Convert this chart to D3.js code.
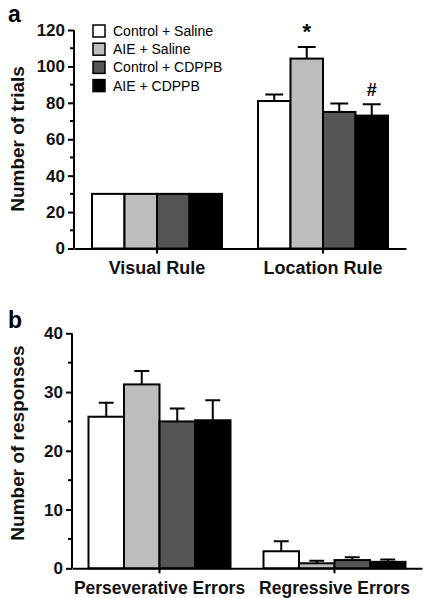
<!DOCTYPE html>
<html>
<head>
<meta charset="utf-8">
<script src="https://cdn.jsdelivr.net/npm/d3@7"></script>
<style>
  body { margin: 0; background: #fff; }
  text { font-family: "Liberation Sans", Arial, sans-serif; }
</style>
</head>
<body>
<div id="chart"></div>
<script>
var groups = ['Control + Saline', 'AIE + Saline', 'Control + CDPPB', 'AIE + CDPPB']
var colors = ['#ffffff', '#bdbdbd', '#555555', '#000000']

// panel a
var rulesA = ['Visual Rule', 'Location Rule']
var trialsMean = [[30, 30, 30, 30], [81, 104.3, 75, 73]]
var trialsErr = [[0, 0, 0, 0], [3.6, 6.4, 4.7, 6.2]]
var marksA = [[null, null, null, null], [null, '*', null, '#']]
var ticksA = [0, 20, 40, 60, 80, 100, 120]

// panel b
var errTypes = ['Perseverative Errors', 'Regressive Errors']
var respMean = [[25.8, 31.3, 25.0, 25.2], [2.9, 0.85, 1.4, 1.1]]
var respErr = [[2.4, 2.3, 2.2, 3.4], [1.7, 0.45, 0.5, 0.4]]
var ticksB = [0, 10, 20, 30, 40]

var svg = d3.select('#chart').append('svg')
  .attr('width', 423)
  .attr('height', 598)

function panel (opt) {
  var g = svg.append('g')
  var x = d3.scaleBand().domain(opt.cats).range([opt.x0, opt.x1]).padding(0)
  var y = d3.scaleLinear().domain([0, opt.ymax]).range([opt.y0, opt.y1])
  var inner = d3.scaleBand().domain(d3.range(4)).range([0, opt.groupW])
  var off = (x.bandwidth() - opt.groupW) / 2

  // minor ticks
  var minors = d3.range(opt.minor, opt.ymax, opt.minor * 2)
  g.selectAll('line.minor').data(minors).enter().append('line')
    .attr('x1', opt.x0 - 4).attr('x2', opt.x0)
    .attr('y1', function (d) { return y(d) }).attr('y2', function (d) { return y(d) })
    .attr('stroke', '#000').attr('stroke-width', 2)

  var yAxis = g.append('g')
    .attr('transform', 'translate(' + opt.x0 + ',0)')
    .call(d3.axisLeft(y).tickValues(opt.ticks).tickSize(6).tickPadding(3))
  yAxis.selectAll('path, line').attr('stroke', '#000').attr('stroke-width', 2)
  yAxis.select('path').attr('d', 'M0,' + y(0) + 'V' + y(opt.ymax))
  yAxis.selectAll('text').attr('font-size', 17).attr('font-weight', 'bold').attr('fill', '#111')

  // bars
  opt.cats.forEach(function (c, ci) {
    var bg = g.append('g').attr('transform', 'translate(' + (x(c) + off) + ',0)')
    bg.selectAll('line.err').data(opt.mean[ci]).enter().append('path')
      .attr('d', function (d, i) {
        var e = opt.err[ci][i]
        if (!e) return null
        var cx = inner(i) + inner.bandwidth() / 2
        var hw = inner.bandwidth() * opt.cap / 2
        return 'M' + cx + ',' + y(d) + 'V' + y(d + e) + 'M' + (cx - hw) + ',' + y(d + e) + 'H' + (cx + hw)
      })
      .attr('stroke', '#000').attr('stroke-width', 2).attr('fill', 'none')
    bg.selectAll('rect').data(opt.mean[ci]).enter().append('rect')
      .attr('x', function (d, i) { return inner(i) })
      .attr('y', function (d) { return y(d) })
      .attr('width', inner.bandwidth())
      .attr('height', function (d) { return y(0) - y(d) })
      .attr('fill', function (d, i) { return colors[i] })
      .attr('stroke', '#000').attr('stroke-width', 2)
    if (opt.marks) {
      bg.selectAll('text.mark').data(opt.mean[ci]).enter().append('text')
        .attr('x', function (d, i) { return inner(i) + inner.bandwidth() / 2 })
        .attr('y', function (d, i) { return y(d + opt.err[ci][i]) - 8 })
        .attr('text-anchor', 'middle')
        .attr('font-size', function (d, i) { return opt.marks[ci][i] === '*' ? 22 : 18 })
        .attr('font-weight', 'bold')
        .text(function (d, i) { return opt.marks[ci][i] })
    }
  })

  var xAxis = g.append('g')
    .attr('transform', 'translate(0,' + y(0) + ')')
    .call(d3.axisBottom(x).tickSize(5).tickPadding(8).tickSizeOuter(0))
  xAxis.selectAll('path, line').attr('stroke', '#000').attr('stroke-width', 2)
  xAxis.selectAll('text').attr('font-size', opt.xFont).attr('font-weight', 'bold').attr('fill', '#111')

  g.append('text')
    .attr('transform', 'translate(' + opt.labelX + ',' + opt.labelY + ') rotate(-90)')
    .attr('text-anchor', 'middle')
    .attr('font-size', 19).attr('font-weight', 'bold').attr('fill', '#111')
    .text(opt.ylabel)

  g.append('text')
    .attr('x', 8).attr('y', opt.letterY)
    .attr('font-size', 23).attr('font-weight', 'bold')
    .text(opt.letter)
}

panel({
  cats: rulesA, mean: trialsMean, err: trialsErr, marks: marksA,
  x0: 74, x1: 406, y0: 248.5, y1: 30, ymax: 120, ticks: ticksA, minor: 10,
  groupW: 130, cap: 0.55, xFont: 18,
  ylabel: 'Number of trials', labelX: 24, labelY: 139, letter: 'a', letterY: 22
})

panel({
  cats: errTypes, mean: respMean, err: respErr,
  x0: 72, x1: 422, y0: 568.3, y1: 333.3, ymax: 40, ticks: ticksB, minor: 5,
  groupW: 142, cap: 0.42, xFont: 17.5,
  ylabel: 'Number of responses', labelX: 24, labelY: 443, letter: 'b', letterY: 328
})

// legend
var legend = svg.append('g').attr('transform', 'translate(93,25)')
var row = legend.selectAll('g').data(groups).enter().append('g')
  .attr('transform', function (d, i) { return 'translate(0,' + (i * 18.2) + ')' })
row.append('rect')
  .attr('width', 12).attr('height', 12)
  .attr('fill', function (d, i) { return colors[i] })
  .attr('stroke', '#000').attr('stroke-width', 1.5)
row.append('text')
  .attr('x', 20).attr('y', 11)
  .attr('font-size', 14)
  .text(function (d) { return d })
</script>
</body>
</html>
